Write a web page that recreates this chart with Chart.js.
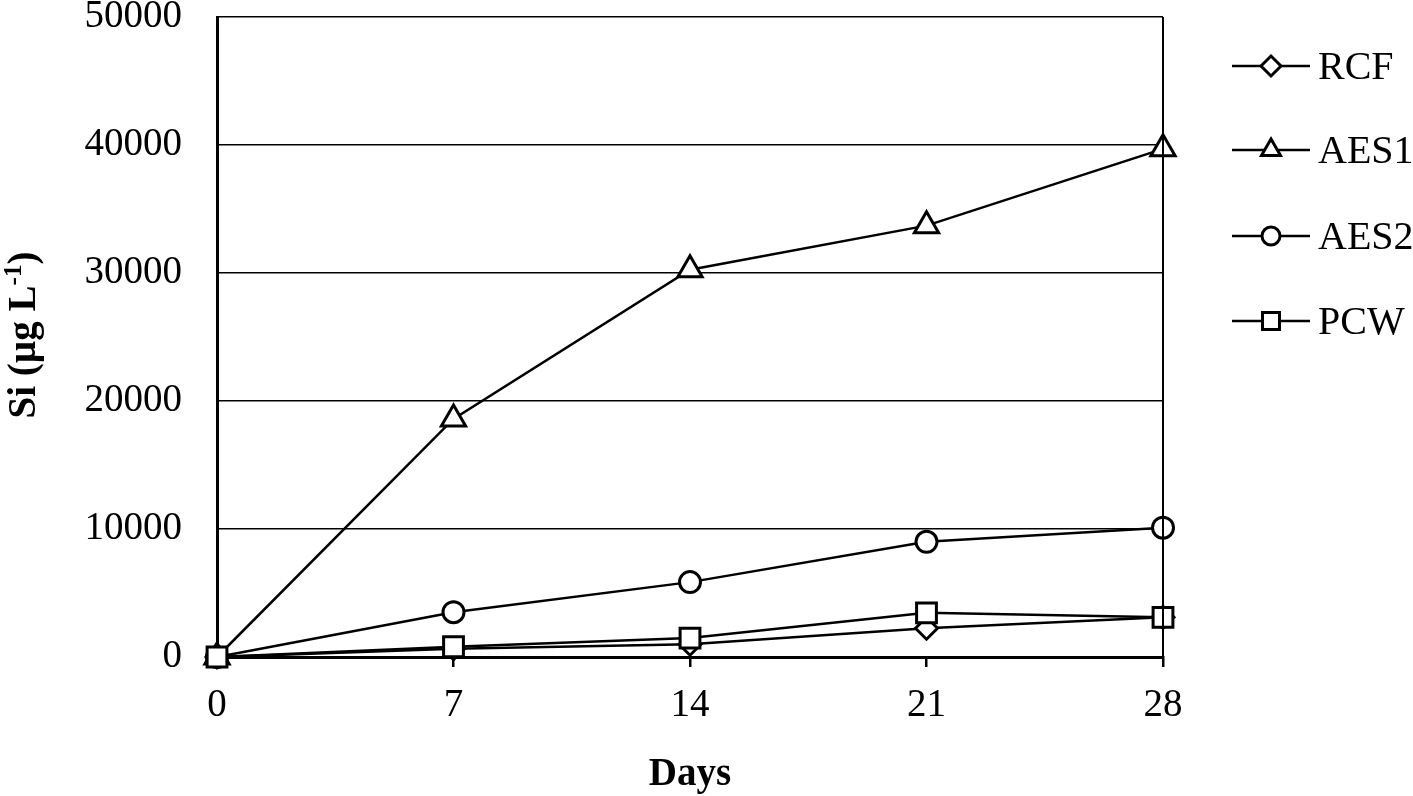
<!DOCTYPE html>
<html>
<head>
<meta charset="utf-8">
<script src="https://cdn.jsdelivr.net/npm/chart.js@4/dist/chart.umd.min.js"></script>
<style>
  html, body { margin: 0; padding: 0; background: #fff; }
  #wrap { width: 1413px; height: 796px; position: relative; }
</style>
</head>
<body>
<div id="wrap"><canvas id="chart"></canvas></div>
<script>
// days on the x axis
const days = ['0', '7', '14', '21', '28'];

// Si concentration (µg/L) per series
const rcf  = [0, 650, 1000, 2250, 3100];
const aes1 = [0, 18600, 30250, 33700, 39700];
const aes2 = [0, 3500, 5850, 9000, 10100];
const pcw  = [0, 800, 1480, 3450, 3100];

const seriesNames = ['RCF', 'AES1', 'AES2', 'PCW'];
const seriesStyles = ['rectRot', 'triangle', 'circle', 'rect'];

const FONT = "'Liberation Serif', 'Times New Roman', serif";

function makeSet(label, data, style, radius, order) {
  return {
    label: label,
    data: data,
    borderColor: '#000',
    borderWidth: 2.5,
    backgroundColor: '#fff',
    pointStyle: style,
    pointRadius: radius,
    pointHoverRadius: radius,
    pointBorderWidth: 3,
    pointBorderColor: '#000',
    pointBackgroundColor: '#fff',
    tension: 0,
    fill: false,
    clip: false,
    order: order
  };
}

// titles, right frame edge and the line+marker legend
const decorations = {
  id: 'decorations',
  afterDraw(chart) {
    const ctx = chart.ctx;
    const area = chart.chartArea;
    ctx.save();

    // right border of the plot
    ctx.strokeStyle = '#000';
    ctx.lineWidth = 2;
    ctx.beginPath();
    ctx.moveTo(area.right, area.top);
    ctx.lineTo(area.right, area.bottom);
    ctx.stroke();

    // x title
    ctx.fillStyle = '#000';
    ctx.font = 'bold 39px ' + FONT;
    ctx.textAlign = 'center';
    ctx.textBaseline = 'middle';
    ctx.fillText('Days', (area.left + area.right) / 2, 775);

    // y title with superscript
    ctx.save();
    ctx.translate(22, 335);
    ctx.rotate(-Math.PI / 2);
    const main = 'Si (µg L';
    const sup = '-1';
    const close = ')';
    ctx.font = 'bold 39px ' + FONT;
    const w1 = ctx.measureText(main).width;
    const w3 = ctx.measureText(close).width;
    ctx.font = 'bold 25px ' + FONT;
    const w2 = ctx.measureText(sup).width;
    let x = -(w1 + w2 + w3) / 2;
    ctx.textAlign = 'left';
    ctx.textBaseline = 'alphabetic';
    ctx.font = 'bold 39px ' + FONT;
    ctx.fillText(main, x, 13);
    x += w1;
    ctx.font = 'bold 25px ' + FONT;
    ctx.fillText(sup, x, -1);
    x += w2;
    ctx.font = 'bold 39px ' + FONT;
    ctx.fillText(close, x, 13);
    ctx.restore();

    // legend
    const legendY = [66, 150, 236, 321];
    const legendR = [10, 11, 9, 12];
    for (let i = 0; i < seriesNames.length; i++) {
      const y = legendY[i];
      ctx.strokeStyle = '#000';
      ctx.lineWidth = 2.5;
      ctx.beginPath();
      ctx.moveTo(1232, y);
      ctx.lineTo(1310, y);
      ctx.stroke();
      ctx.fillStyle = '#fff';
      ctx.lineWidth = 3;
      Chart.helpers.drawPoint(ctx, {
        pointStyle: seriesStyles[i],
        rotation: 0,
        radius: legendR[i],
        borderWidth: 3
      }, 1271, y);
      ctx.fillStyle = '#000';
      ctx.font = '40px ' + FONT;
      ctx.textAlign = 'left';
      ctx.textBaseline = 'middle';
      ctx.fillText(seriesNames[i], 1318, y + 2);
    }
    ctx.restore();
  }
};

new Chart(document.getElementById('chart'), {
  type: 'line',
  data: {
    labels: days,
    datasets: [
      makeSet('RCF', rcf, 'rectRot', 11, 4),
      makeSet('AES1', aes1, 'triangle', 14, 3),
      makeSet('AES2', aes2, 'circle', 10.5, 2),
      makeSet('PCW', pcw, 'rect', 14, 1)
    ]
  },
  options: {
    responsive: true,
    maintainAspectRatio: false,
    animation: false,
    events: [],
    layout: { padding: { left: 0, top: 15, right: 250, bottom: 0 } },
    plugins: {
      legend: { display: false },
      tooltip: { enabled: false }
    },
    scales: {
      x: {
        type: 'category',
        offset: false,
        grid: {
          display: true,
          drawOnChartArea: false,
          drawTicks: true,
          tickLength: 10,
          color: '#000',
          lineWidth: 2.5
        },
        border: { display: true, color: '#000', width: 3 },
        ticks: {
          color: '#000',
          font: { family: FONT, size: 39 },
          padding: 15,
          maxRotation: 0,
          autoSkip: false
        },
        afterFit(scale) {
          scale.height = 139;
        }
      },
      y: {
        min: 0,
        max: 50000,
        grid: {
          color: '#000',
          lineWidth: 1.5,
          drawTicks: false
        },
        border: { display: true, color: '#000', width: 3 },
        ticks: {
          stepSize: 10000,
          color: '#000',
          font: { family: FONT, size: 39 },
          padding: 35,
          callback: (v) => String(v)
        },
        afterFit(scale) {
          scale.width = 217;
          scale.paddingTop = 0;
          scale.paddingBottom = 0;
        }
      }
    }
  },
  plugins: [decorations]
});
</script>
</body>
</html>
